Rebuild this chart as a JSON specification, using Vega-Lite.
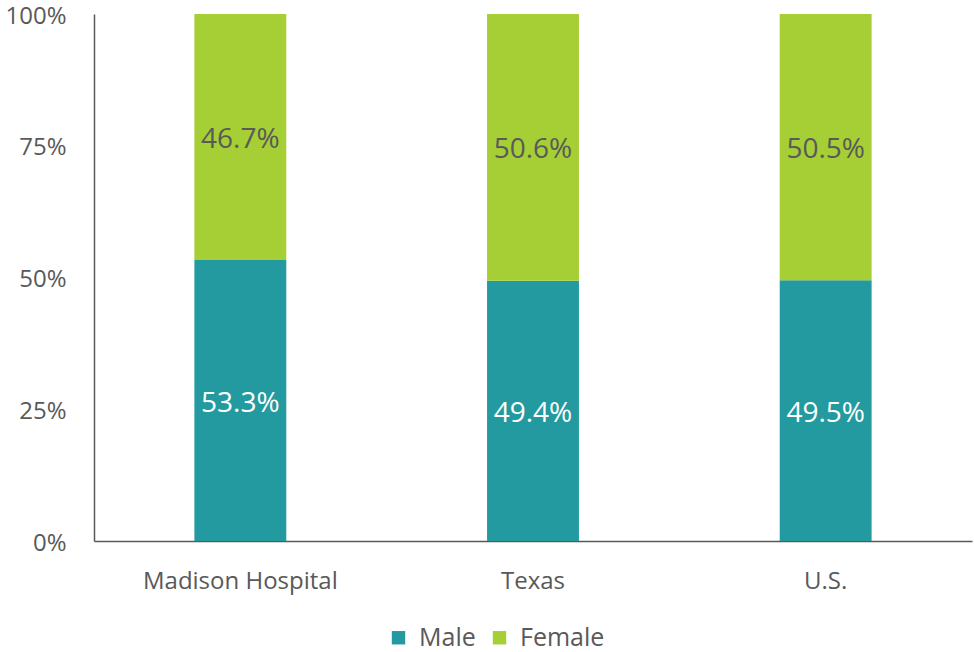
{
  "$schema": "https://vega.github.io/schema/vega-lite/v6.json",
  "width": 878,
  "height": 527,
  "autosize": {"type": "none"},
  "padding": {"left": 94, "top": 14, "right": 2, "bottom": 111},
  "config": {
    "view": {"stroke": null},
    "font": "Open Sans",
    "axis": {"labelFont": "Open Sans", "labelFontSize": 24, "labelColor": "#595959", "labelLimit": 0, "domainColor": "#595959", "domainWidth": 1.5, "grid": false, "ticks": false, "title": null},
    "legend": {"labelFont": "Open Sans", "labelFontSize": 25, "labelColor": "#595959", "labelLimit": 0}
  },
  "data": {
    "values": [
      {"place": "Madison Hospital", "sex": "Male", "share": 0.533},
      {"place": "Madison Hospital", "sex": "Female", "share": 0.467},
      {"place": "Texas", "sex": "Male", "share": 0.494},
      {"place": "Texas", "sex": "Female", "share": 0.506},
      {"place": "U.S.", "sex": "Male", "share": 0.495},
      {"place": "U.S.", "sex": "Female", "share": 0.505}
    ]
  },
  "encoding": {
    "x": {
      "field": "place", "type": "nominal", "sort": null,
      "scale": {"paddingInner": 0.686, "paddingOuter": 0.343},
      "axis": {"labelAngle": 0, "labelPadding": 28}
    },
    "y": {
      "field": "share", "type": "quantitative", "stack": "zero",
      "scale": {"domain": [0, 1], "nice": false},
      "axis": {"values": [0, 0.25, 0.5, 0.75, 1], "format": "%", "labelPadding": 28, "labelOffset": 2}
    },
    "order": {"field": "sex", "sort": "descending"}
  },
  "layer": [
    {
      "mark": {"type": "bar"},
      "encoding": {
        "color": {
          "field": "sex", "type": "nominal",
          "scale": {"domain": ["Male", "Female"], "range": ["#239A9F", "#A5CF35"]},
          "legend": {"orient": "none", "direction": "horizontal", "legendX": 292, "legendY": 611, "title": null, "symbolType": "square", "symbolSize": 180, "symbolStrokeWidth": 0, "labelOffset": 8, "columnPadding": 11}
        }
      }
    },
    {
      "mark": {"type": "text", "fontSize": 28, "font": "Open Sans", "dy": 3},
      "encoding": {
        "y": {"field": "share", "type": "quantitative", "stack": "zero", "bandPosition": 0.5},
        "text": {"field": "share", "type": "quantitative", "format": ".1%"},
        "color": {"condition": {"test": "datum.sex == 'Male'", "value": "#FFFFFF"}, "value": "#595959"}
      }
    }
  ]
}
